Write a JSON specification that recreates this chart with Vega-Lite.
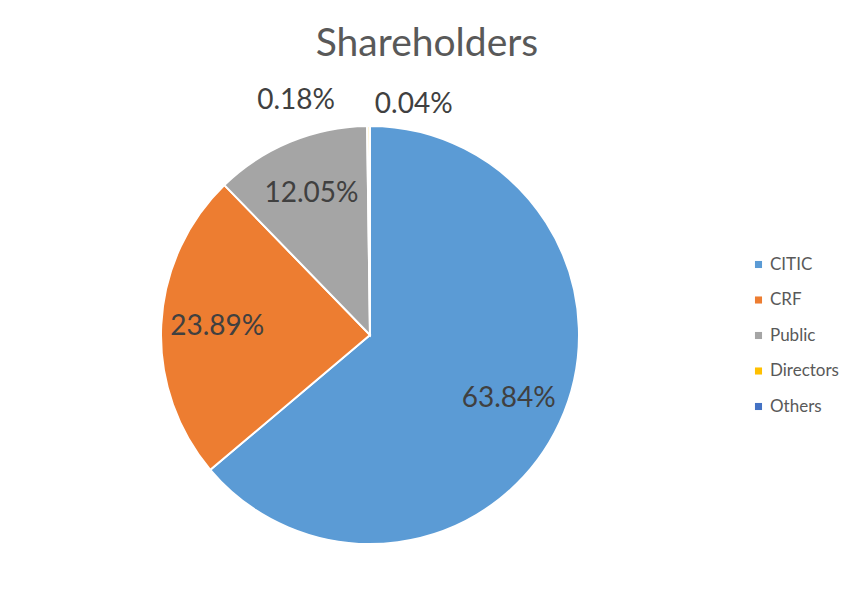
{
  "$schema": "https://vega.github.io/schema/vega-lite/v6.json",
  "autosize": {"type": "fit", "contains": "padding"},
  "width": 857,
  "height": 602,
  "padding": {"top": 25, "bottom": 0, "left": 0, "right": 18},
  "background": "white",
  "title": {
    "text": "Shareholders",
    "fontSize": 39,
    "font": "Lato",
    "fontWeight": "normal",
    "color": "#595959",
    "anchor": "middle",
    "offset": 4,
    "dx": 57
  },
  "data": {
    "values": [
      {"name": "CITIC", "value": 63.84, "label": "63.84%", "idx": 1},
      {"name": "CRF", "value": 23.89, "label": "23.89%", "idx": 2},
      {"name": "Public", "value": 12.05, "label": "12.05%", "idx": 3},
      {"name": "Directors", "value": 0.18, "label": "0.18%", "idx": 4},
      {"name": "Others", "value": 0.04, "label": "0.04%", "idx": 5}
    ]
  },
  "encoding": {
    "theta": {"field": "value", "type": "quantitative", "stack": true},
    "order": {"field": "idx", "type": "quantitative"}
  },
  "layer": [
    {
      "mark": {"type": "arc", "outerRadius": 209, "stroke": "white", "strokeWidth": 2},
      "encoding": {
        "color": {
          "field": "name",
          "type": "nominal",
          "sort": ["CITIC", "CRF", "Public", "Directors", "Others"],
          "scale": {
            "domain": ["CITIC", "CRF", "Public", "Directors", "Others"],
            "range": ["#5B9BD5", "#ED7D31", "#A5A5A5", "#FFC000", "#4472C4"]
          },
          "legend": {
            "title": null,
            "orient": "right",
            "offset": 10,
            "symbolType": "square",
            "symbolSize": 50,
            "symbolStrokeWidth": 0,
            "labelFont": "Lato",
            "labelFontSize": 17,
            "labelColor": "#595959",
            "rowPadding": 17.5,
            "labelOffset": 3
          }
        }
      }
    },
    {
      "mark": {"type": "text", "radius": 153, "fontSize": 28, "font": "Lato", "fill": "#404040"},
      "encoding": {
        "text": {"condition": {"test": "datum.value > 1", "field": "label"}, "value": ""}
      }
    },
    {
      "mark": {"type": "text", "radius": 236, "dx": -72, "dy": 2, "fontSize": 28, "font": "Lato", "fill": "#404040"},
      "encoding": {
        "text": {"condition": {"test": "datum.name === 'Directors'", "field": "label"}, "value": ""}
      }
    },
    {
      "mark": {"type": "text", "radius": 234, "dx": 44, "dy": 4, "fontSize": 28, "font": "Lato", "fill": "#404040"},
      "encoding": {
        "text": {"condition": {"test": "datum.name === 'Others'", "field": "label"}, "value": ""}
      }
    }
  ],
  "config": {
    "view": {"stroke": null},
    "legend": {"layout": {"right": {"anchor": "middle"}}}
  }
}
